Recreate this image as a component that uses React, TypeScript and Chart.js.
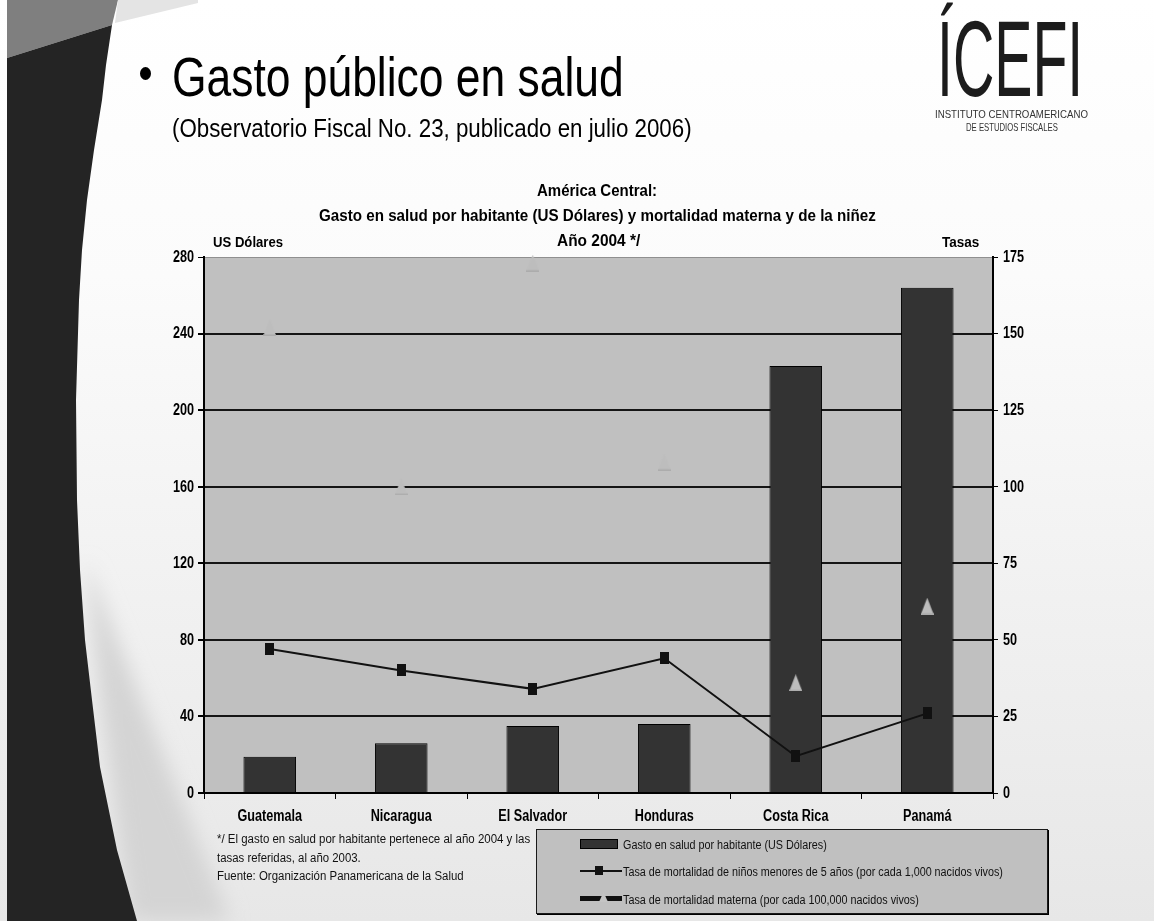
import React, { useEffect, useLayoutEffect, useRef } from "react";
import { Chart, registerables } from "chart.js";

Chart.register(...registerables);

// ---------- data ----------
const categories = ["Guatemala", "Nicaragua", "El Salvador", "Honduras", "Costa Rica", "Panamá"];
const gastoSalud = [19, 26, 35, 36, 223, 264];
const mortalidadNinez = [47, 40, 34, 44, 12, 26];
const mortalidadMaterna = [152, 100, 173, 108, 36, 61];
const leftTicks = [0, 40, 80, 120, 160, 200, 240, 280];
const rightTicks = [0, 25, 50, 75, 100, 125, 150, 175];
const seriesLabels = [
  "Gasto en salud por habitante (US Dólares)",
  "Tasa de mortalidad de niños menores de 5 años (por cada 1,000 nacidos vivos)",
  "Tasa de mortalidad materna (por cada 100,000 nacidos vivos)",
];
const chartTitle = [
  "América Central:",
  "Gasto en salud por habitante (US Dólares) y mortalidad materna y de la niñez",
  "Año 2004 */",
];
const footnote = [
  "*/ El gasto en salud por habitante pertenece al año 2004 y las",
  "tasas referidas, al año 2003.",
  "Fuente: Organización Panamericana de la Salud",
];

const SANS = '"Liberation Sans", Arial, Helvetica, sans-serif';
const LABEL_SCALE_X = 0.79; // condensed look of the reference labels

type FitProps = {
  text: string;
  x: number;
  baseline: number;
  size: number;
  weight?: number | string;
  width?: number;
  scale?: number;
  anchor?: "left" | "center" | "right";
  color?: string;
  family?: string;
};

function FitText({ text, x, baseline, size, weight = 400, width, scale, anchor = "left", color = "#000", family = SANS }: FitProps) {
  const ref = useRef<HTMLSpanElement>(null);
  useLayoutEffect(() => {
    const el = ref.current;
    if (!el) return;
    el.style.transform = "none";
    const nat = el.offsetWidth || 1;
    const s = width ? width / nat : scale ?? 1;
    const w = nat * s;
    const left = anchor === "left" ? x : anchor === "center" ? x - w / 2 : x - w;
    el.style.left = left + "px";
    el.style.transform = `scaleX(${s})`;
  }, [text, x, width, scale, anchor, size]);
  return (
    <span
      ref={ref}
      style={{
        position: "absolute",
        left: x,
        top: baseline - 0.8465 * size,
        fontSize: size,
        lineHeight: 1,
        fontWeight: weight as any,
        fontFamily: family,
        whiteSpace: "nowrap",
        transformOrigin: "left top",
        color,
      }}
    >
      {text}
    </span>
  );
}

function makeMarker(w: number, h: number, draw: (g: CanvasRenderingContext2D) => void) {
  const c = document.createElement("canvas");
  c.width = w;
  c.height = h;
  const g = c.getContext("2d")!;
  draw(g);
  return c;
}

function drawCondensed(ctx: CanvasRenderingContext2D, text: string, x: number, y: number) {
  ctx.save();
  ctx.translate(x, y);
  ctx.scale(LABEL_SCALE_X, 1);
  ctx.fillText(text, 0, 0);
  ctx.restore();
}

export default function App() {
  const canvasRef = useRef<HTMLCanvasElement>(null);

  useEffect(() => {
    document.body.style.margin = "0";
    const square = makeMarker(9, 12, (g) => {
      g.fillStyle = "#111111";
      g.fillRect(0, 0, 9, 12);
    });
    const tri = makeMarker(13, 17, (g) => {
      g.fillStyle = "#bdbdbd";
      g.beginPath();
      g.moveTo(6.5, 0);
      g.lineTo(13, 17);
      g.lineTo(0, 17);
      g.closePath();
      g.fill();
      g.fillStyle = "#acacac";
      g.fillRect(0, 15.5, 13, 1.5);
    });

    const plotBg = {
      id: "plotBg",
      beforeDraw(chart: any) {
        const { ctx, chartArea: a } = chart;
        ctx.save();
        ctx.fillStyle = "#c0c0c0";
        ctx.fillRect(a.left, a.top, a.right - a.left, a.bottom - a.top);
        ctx.restore();
      },
    };

    // tick labels drawn from the library's scales, horizontally condensed like the reference
    const condensedLabels = {
      id: "condensedLabels",
      afterDraw(chart: any) {
        const ctx: CanvasRenderingContext2D = chart.ctx;
        const xs = chart.scales.x;
        const ys = chart.scales.y;
        const y1 = chart.scales.y1;
        ctx.save();
        ctx.fillStyle = "#000";
        ctx.font = `bold 16px ${SANS}`;
        ctx.textBaseline = "middle";
        ctx.textAlign = "center";
        xs.ticks.forEach((t: any, i: number) => {
          drawCondensed(ctx, String(xs.getLabelForValue(t.value)), xs.getPixelForTick(i), xs.top + 24);
        });
        ctx.textAlign = "right";
        ys.ticks.forEach((t: any) => {
          drawCondensed(ctx, String(t.value), ys.right - 10, ys.getPixelForValue(t.value) + 0.5);
        });
        ctx.textAlign = "left";
        y1.ticks.forEach((t: any) => {
          drawCondensed(ctx, String(t.value), y1.left + 10, y1.getPixelForValue(t.value) + 0.5);
        });
        ctx.restore();
      },
    };

    const chart = new Chart(canvasRef.current!, {
      type: "bar",
      data: {
        labels: categories,
        datasets: [
          {
            type: "bar",
            label: seriesLabels[0],
            data: gastoSalud,
            yAxisID: "y",
            backgroundColor: "#333333",
            borderColor: "#000000",
            borderWidth: 1,
            barPercentage: 0.8,
            categoryPercentage: 0.5,
            order: 3,
          },
          {
            type: "line",
            label: seriesLabels[1],
            data: mortalidadNinez,
            yAxisID: "y1",
            borderColor: "#111111",
            borderWidth: 2,
            pointStyle: square as any,
            pointRadius: 6,
            tension: 0,
            order: 2,
          },
          {
            type: "line",
            label: seriesLabels[2],
            data: mortalidadMaterna,
            yAxisID: "y1",
            showLine: false,
            pointStyle: tri as any,
            pointRadius: 6,
            clip: false as any,
            order: 1,
          },
        ] as any,
      },
      options: {
        responsive: false,
        animation: false,
        events: [],
        layout: { padding: { left: 0, top: 257, right: 101, bottom: 98 }, autoPadding: false } as any,
        plugins: {
          legend: { display: false },
          tooltip: { enabled: false },
          title: { display: false },
        },
        scales: {
          x: {
            offset: true,
            grid: { offset: true, drawOnChartArea: false, drawTicks: true, tickLength: 6, color: "#000", lineWidth: 1 },
            border: { color: "#000", width: 2 },
            ticks: { display: false },
            afterFit: (s: any) => {
              s.height = 30;
            },
          },
          y: {
            position: "left",
            min: leftTicks[0],
            max: leftTicks[leftTicks.length - 1],
            afterBuildTicks: (s: any) => {
              s.ticks = leftTicks.map((v) => ({ value: v }));
            },
            ticks: { display: false },
            grid: {
              color: (c: any) => (c.tick && c.tick.value === 280 ? "#8f8f8f" : "#151515"),
              lineWidth: (c: any) => (c.tick && c.tick.value === 280 ? 1 : 2),
              tickColor: "#000",
              tickLength: 6,
              drawTicks: true,
            },
            border: { color: "#000", width: 2 },
            afterFit: (s: any) => {
              s.width = 204;
            },
          },
          y1: {
            position: "right",
            min: rightTicks[0],
            max: rightTicks[rightTicks.length - 1],
            afterBuildTicks: (s: any) => {
              s.ticks = rightTicks.map((v) => ({ value: v }));
            },
            ticks: { display: false },
            grid: { drawOnChartArea: false, drawTicks: true, tickLength: 5, color: "#000", lineWidth: 1 },
            border: { color: "#000", width: 2 },
            afterFit: (s: any) => {
              s.width = 60;
            },
          },
        },
      } as any,
      plugins: [plotBg, condensedLabels],
    });
    return () => chart.destroy();
  }, []);

  return (
    <div
      style={{
        position: "fixed",
        left: 0,
        top: 0,
        width: 1154,
        height: 921,
        overflow: "hidden",
        background: "#ffffff",
      }}
    >
      <svg width={1154} height={921} style={{ position: "absolute", left: 0, top: 0 }}>
        <defs>
          <linearGradient id="bgGrad" x1="0" y1="0" x2="0" y2="1">
            <stop offset="0" stopColor="#ffffff" />
            <stop offset="0.3" stopColor="#fbfbfb" />
            <stop offset="1" stopColor="#e7e7e7" />
          </linearGradient>
          <filter id="soft" x="-50%" y="-50%" width="200%" height="200%">
            <feGaussianBlur stdDeviation="10" />
          </filter>
        </defs>
        <rect x={0} y={0} width={1154} height={921} fill="url(#bgGrad)" />
        <path d="M85,560 L100,700 L130,921 L230,921 Z" fill="#d4d4d4" filter="url(#soft)" />
        <polygon points="7,0 118,0 112,25 7,58" fill="#7f7f7f" />
        <polygon points="118,0 198,0 198,3 115,23" fill="#e4e4e4" />
        <path
          d="M7,58 L112,25 L106,65 L102,100 L94,150 L87,200 L82,250 L79,300 L76,400 L77,500 L80,570 L85,640 L92,700 L100,767 L117,850 L137,921 L7,921 Z"
          fill="#242424"
        />
      </svg>

      <canvas ref={canvasRef} width={1154} height={921} style={{ position: "absolute", left: 0, top: 0 }} />

      {/* slide heading */}
      <div style={{ position: "absolute", left: 140, top: 67, width: 11, height: 13, borderRadius: "50%", background: "#000" }} />
      <FitText text="Gasto público en salud" x={172} baseline={97} size={55} width={452} />
      <FitText text="(Observatorio Fiscal No. 23, publicado en julio 2006)" x={172} baseline={137} size={26} width={520} />

      {/* logo */}
      <FitText text="ÍCEFI" x={937} baseline={97} size={107} width={146} color="#1c1c1c" />
      <FitText text="INSTITUTO CENTROAMERICANO" x={935} baseline={118} size={11} width={153} color="#333" />
      <FitText text="DE ESTUDIOS FISCALES" x={966} baseline={131} size={11} width={92} color="#333" />

      {/* chart title */}
      <FitText text={chartTitle[0]} x={597} baseline={197} size={16} weight="bold" width={120} anchor="center" />
      <FitText text={chartTitle[1]} x={597.5} baseline={222} size={16} weight="bold" width={557} anchor="center" />
      <FitText text={chartTitle[2]} x={598} baseline={247} size={16} weight="bold" width={83} anchor="center" />
      <FitText text="US Dólares" x={213} baseline={247} size={15} weight="bold" width={70} />
      <FitText text="Tasas" x={942} baseline={247} size={15} weight="bold" width={37} />

      {/* footnote */}
      <FitText text={footnote[0]} x={217} baseline={844} size={12.5} width={313} color="#111" />
      <FitText text={footnote[1]} x={217} baseline={862.5} size={12.5} width={144} color="#111" />
      <FitText text={footnote[2]} x={217} baseline={881} size={12.5} width={247} color="#111" />

      {/* legend */}
      <div
        style={{
          position: "absolute",
          left: 536,
          top: 829,
          width: 512,
          height: 85,
          boxSizing: "border-box",
          background: "#c0c0c0",
          border: "1px solid #1a1a1a",
          boxShadow: "1px 1px 0 #000",
        }}
      />
      <div style={{ position: "absolute", left: 580, top: 839, width: 38, height: 10, boxSizing: "border-box", background: "#333", border: "1px solid #000" }} />
      <div style={{ position: "absolute", left: 580, top: 869.5, width: 42, height: 2, background: "#111" }} />
      <div style={{ position: "absolute", left: 595, top: 866, width: 8, height: 9, background: "#111" }} />
      <div style={{ position: "absolute", left: 580, top: 896, width: 22, height: 5, background: "#111" }} />
      <div style={{ position: "absolute", left: 605, top: 896, width: 17, height: 5, background: "#111" }} />
      <div
        style={{
          position: "absolute",
          left: 599,
          top: 892,
          width: 9,
          height: 10,
          background: "#c4c4c4",
          clipPath: "polygon(50% 0, 100% 100%, 0 100%)",
        }}
      />
      <FitText text={seriesLabels[0]} x={622.5} baseline={849} size={12} width={204} color="#111" />
      <FitText text={seriesLabels[1]} x={622.5} baseline={876} size={12} width={380} color="#111" />
      <FitText text={seriesLabels[2]} x={622.5} baseline={904} size={12} width={296} color="#111" />
    </div>
  );
}
